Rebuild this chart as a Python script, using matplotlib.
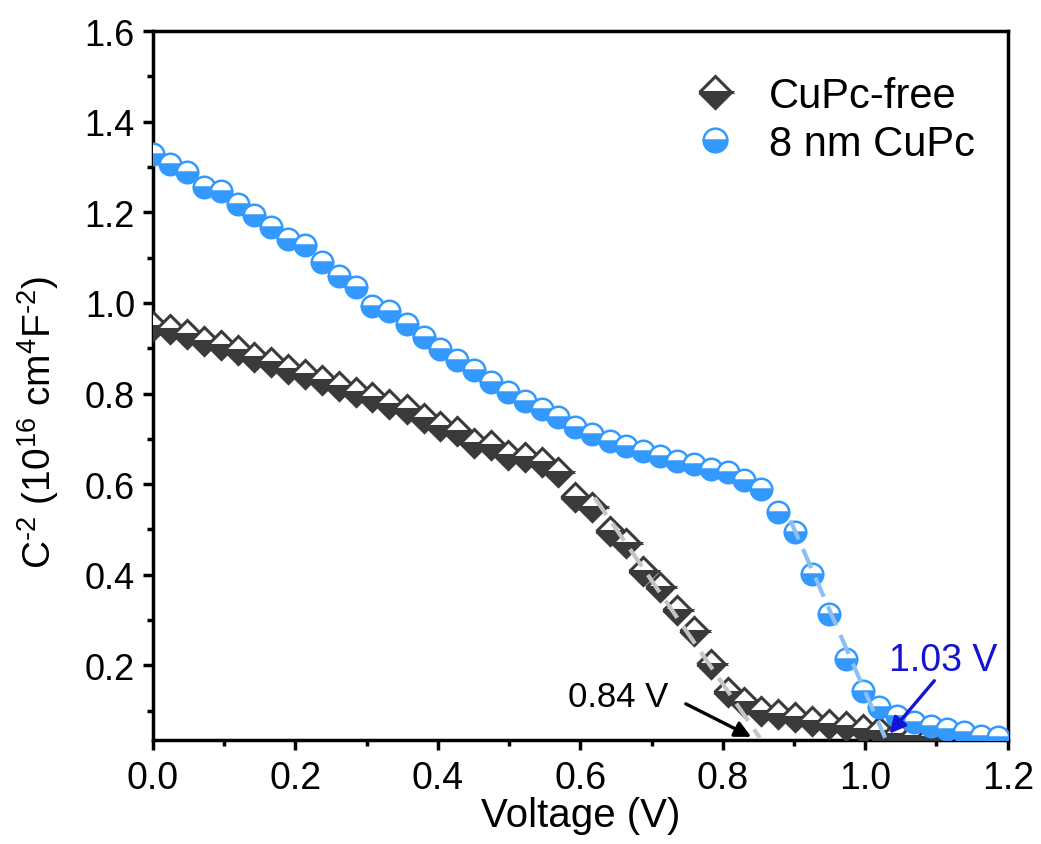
import matplotlib
matplotlib.use("Agg")
import matplotlib.pyplot as plt
from matplotlib.ticker import MultipleLocator, FormatStrFormatter

plt.rcParams["font.family"] = ["Liberation Sans", "DejaVu Sans"]
plt.rcParams["mathtext.fontset"] = "custom"
plt.rcParams["mathtext.rm"] = "Liberation Sans"

# ── Data ──────────────────────────────────────────────────
voltage = [0.000, 0.024, 0.047, 0.071, 0.095, 0.119, 0.142, 0.166, 0.190, 0.213,
           0.237, 0.261, 0.285, 0.308, 0.332, 0.356, 0.380, 0.403, 0.427, 0.451,
           0.475, 0.498, 0.522, 0.546, 0.569, 0.593, 0.617, 0.641, 0.664, 0.688,
           0.712, 0.736, 0.759, 0.783, 0.807, 0.830, 0.854, 0.878, 0.902, 0.925,
           0.949, 0.973, 0.997, 1.020, 1.044, 1.068, 1.092, 1.115, 1.139, 1.163,
           1.187]

c2_free = [0.950, 0.943, 0.932, 0.917, 0.906, 0.895, 0.880, 0.869, 0.854, 0.843,
           0.829, 0.817, 0.803, 0.792, 0.777, 0.766, 0.745, 0.729, 0.718, 0.691,
           0.687, 0.665, 0.659, 0.648, 0.626, 0.571, 0.549, 0.497, 0.470, 0.409,
           0.372, 0.323, 0.275, 0.203, 0.141, 0.118, 0.100, 0.093, 0.085, 0.076,
           0.071, 0.066, 0.060, 0.054, 0.049, 0.045, 0.041]

c2_cupc = [1.329, 1.307, 1.288, 1.255, 1.248, 1.219, 1.193, 1.167, 1.141, 1.127,
           1.090, 1.060, 1.035, 0.994, 0.983, 0.954, 0.924, 0.898, 0.873, 0.851,
           0.825, 0.803, 0.784, 0.766, 0.748, 0.726, 0.711, 0.696, 0.685, 0.674,
           0.663, 0.652, 0.645, 0.634, 0.626, 0.608, 0.589, 0.538, 0.494, 0.402,
           0.313, 0.214, 0.144, 0.107, 0.089, 0.074, 0.067, 0.060, 0.052, 0.045,
           0.041]

# linear fits near the built-in voltage
fit_free_x = [0.620, 0.852]
fit_free_y = [0.570, 0.040]
fit_cupc_x = [0.895, 1.028]
fit_cupc_y = [0.520, 0.040]

DARK = "#3a3a3a"
BLUE = "#3399ff"
NAVY = "#1414d2"

# ── Plot ──────────────────────────────────────────────────
fig = plt.figure(figsize=(10.41, 8.45), dpi=100)
ax = fig.add_axes([0.147, 0.123, 0.821, 0.839])

ax.plot(voltage[:len(c2_free)], c2_free, linestyle="none", marker="D",
        markersize=14.5, markeredgewidth=2.2, fillstyle="bottom",
        color=DARK, markerfacecoloralt="white", markeredgecolor=DARK,
        label="CuPc-free", zorder=3)
ax.plot(voltage, c2_cupc, linestyle="none", marker="o",
        markersize=15.5, markeredgewidth=1.8, fillstyle="bottom",
        color=BLUE, markerfacecoloralt="white", markeredgecolor=BLUE,
        label="8 nm CuPc", zorder=3)

ax.plot(fit_free_x, fit_free_y, color="#c4c4c4", lw=3, dashes=(5, 2.5), zorder=4)
ax.plot(fit_cupc_x, fit_cupc_y, color="#8cc0f0", lw=3, dashes=(5, 2.5), zorder=4)

# intercept labels + arrows
ax.text(0.653, 0.132, "0.84 V", fontsize=25, ha="center", va="center", color="black")
ax.annotate("", xy=(0.840, 0.042), xytext=(0.748, 0.115),
            arrowprops=dict(arrowstyle="-|>", color="black", lw=2.4,
                            mutation_scale=24, shrinkA=0, shrinkB=0))
ax.text(1.110, 0.212, "1.03 V", fontsize=27, ha="center", va="center", color=NAVY)
ax.annotate("", xy=(1.034, 0.049), xytext=(1.097, 0.166),
            arrowprops=dict(arrowstyle="-|>", color=NAVY, lw=2.4,
                            mutation_scale=24, shrinkA=0, shrinkB=0))

ax.set_xlim(0.0, 1.2)
ax.set_ylim(0.035, 1.6)
ax.xaxis.set_major_locator(MultipleLocator(0.2))
ax.xaxis.set_minor_locator(MultipleLocator(0.1))
ax.yaxis.set_major_locator(MultipleLocator(0.2))
ax.yaxis.set_minor_locator(MultipleLocator(0.1))
ax.xaxis.set_major_formatter(FormatStrFormatter("%.1f"))
ax.yaxis.set_major_formatter(FormatStrFormatter("%.1f"))

for side in ax.spines.values():
    side.set_linewidth(2.5)
ax.tick_params(which="both", direction="out", width=2.5, top=False, right=False)
ax.tick_params(which="major", length=7, labelsize=26, pad=6)
ax.tick_params(axis="x", which="major", labelsize=27, pad=7)
ax.tick_params(which="minor", length=4)

ax.set_xlabel("Voltage (V)", fontsize=29, labelpad=0)
ax.set_ylabel("C$^{\u2010\\mathregular{2}}$ (10$^{\\mathregular{16}}$ cm$^{\\mathregular{4}}$F$^{\u2010\\mathregular{2}}$)",
              fontsize=28)
ax.yaxis.set_label_coords(-0.108, 0.45)

ax.legend(loc="upper left", bbox_to_anchor=(0.587, 0.99), frameon=False,
          fontsize=30, handletextpad=0.75, labelspacing=0.2, handlelength=1.1,
          markerscale=1.1)

fig.savefig("out.png", dpi=100)
plt.close(fig)
